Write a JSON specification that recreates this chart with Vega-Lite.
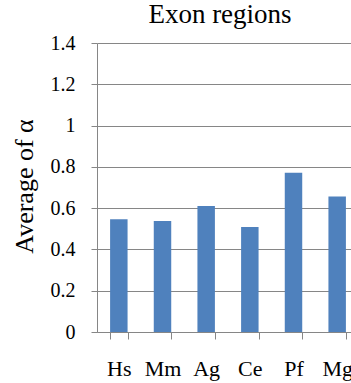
{
  "$schema": "https://vega.github.io/schema/vega-lite/v6.json",
  "autosize": {"type": "none"},
  "padding": {"left": 97, "top": 43, "right": 0, "bottom": 51},
  "width": 254,
  "height": 289,
  "background": "white",
  "title": {
    "text": "Exon regions",
    "font": "Liberation Serif",
    "fontSize": 27,
    "fontWeight": "normal",
    "color": "black",
    "anchor": "middle",
    "dx": -4
  },
  "data": {
    "values": [
      {"species": "Hs", "alpha": 0.546},
      {"species": "Mm", "alpha": 0.538},
      {"species": "Ag", "alpha": 0.610},
      {"species": "Ce", "alpha": 0.509},
      {"species": "Pf", "alpha": 0.772},
      {"species": "Mg", "alpha": 0.657}
    ]
  },
  "mark": {"type": "bar", "color": "#4F81BD"},
  "encoding": {
    "x": {
      "field": "species",
      "type": "nominal",
      "sort": null,
      "scale": {"range": [0, 262], "paddingInner": 0.6, "paddingOuter": 0.3},
      "axis": {
        "title": null,
        "labelAngle": 0,
        "labelFont": "Liberation Serif",
        "labelFontSize": 22,
        "labelColor": "black",
        "labelPadding": 19,
        "tickBand": "extent",
        "tickSize": 7,
        "tickColor": "#868686",
        "domainColor": "#868686",
        "tickWidth": 1,
        "domainWidth": 1,
        "grid": false
      }
    },
    "y": {
      "field": "alpha",
      "type": "quantitative",
      "scale": {"domain": [0, 1.4], "nice": false},
      "axis": {
        "title": "Average of α",
        "titleFont": "Liberation Serif, serif",
        "titleFontSize": 26,
        "titleFontWeight": "normal",
        "titleColor": "black",
        "titleX": -65,
        "titleY": 143,
        "titleAngle": -90,
        "titleAlign": "center",
        "titleBaseline": "alphabetic",
        "values": [0, 0.2, 0.4, 0.6, 0.8, 1, 1.2, 1.4],
        "labelFont": "Liberation Serif, serif",
        "labelFontSize": 20,
        "labelColor": "black",
        "labelPadding": 16,
        "labelExpr": "datum.value == 0 ? '0' : datum.value == 1 ? '1' : format(datum.value, '.1f')",
        "tickSize": 6,
        "tickColor": "#868686",
        "domainColor": "#868686",
        "gridColor": "#868686",
        "grid": true,
        "labelFlush": false,
        "labelOverlap": false
      }
    }
  },
  "config": {
    "font": "Liberation Serif",
    "axis": {"labelFont": "Liberation Serif", "titleFont": "Liberation Serif"},
    "axisY": {"labelFont": "Liberation Serif", "titleFont": "Liberation Serif"},
    "title": {"font": "Liberation Serif"},
    "view": {"stroke": null}
  }
}
